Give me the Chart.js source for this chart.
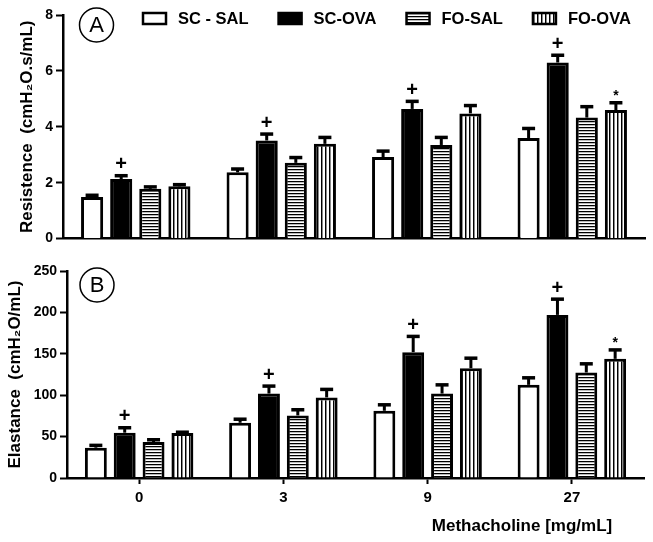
<!DOCTYPE html>
<html><head><meta charset="utf-8">
<script src="https://cdn.jsdelivr.net/npm/chart.js@4/dist/chart.umd.min.js"></script>
<style>
html,body{margin:0;padding:0;background:#fff;width:653px;height:542px;overflow:hidden}
#ca{position:absolute;left:0;top:0}
#cb{position:absolute;left:0;top:250px}
</style></head><body>
<canvas id="ca" width="653" height="250"></canvas>
<canvas id="cb" width="653" height="292"></canvas>
<script>
// ---- data ----
const categories = ['0', '3', '9', '27'];
const seriesNames = ['SC - SAL', 'SC-OVA', 'FO-SAL', 'FO-OVA'];

// Panel A: Resistance
const resSCSAL = [1.49, 2.37, 2.92, 3.60];
const resSCOVA = [2.13, 3.51, 4.64, 6.30];
const resFOSAL = [1.78, 2.71, 3.35, 4.33];
const resFOOVA = [1.87, 3.39, 4.48, 4.60];
const resErrSCSAL = [0.06, 0.12, 0.21, 0.34];
const resErrSCOVA = [0.12, 0.23, 0.27, 0.26];
const resErrFOSAL = [0.07, 0.19, 0.27, 0.39];
const resErrFOOVA = [0.06, 0.23, 0.28, 0.26];
const resTicks = [0, 2, 4, 6, 8];

// Panel B: Elastance
const elaSCSAL = [36.6, 66.7, 81.2, 112.5];
const elaSCOVA = [54.7, 102, 152, 197];
const elaFOSAL = [43.4, 75.6, 102, 127.4];
const elaFOOVA = [54.3, 97.3, 132.6, 143.9];
const elaErrSCSAL = [2.8, 4.3, 7.2, 8.5];
const elaErrSCOVA = [6, 9, 19, 19];
const elaErrFOSAL = [2.8, 6.8, 10.5, 10.5];
const elaErrFOOVA = [1, 9.7, 12.1, 10.8];
const elaTicks = [0, 50, 100, 150, 200, 250];

// significance marks
const marksSCSAL = ['', '', '', ''];
const marksSCOVA = ['+', '+', '+', '+'];
const marksFOSAL = ['', '', '', ''];
const marksFOOVA = ['', '', '', '*'];

const FONT = '"Liberation Sans", Arial, Helvetica, sans-serif';

function stripes(ctx, dir) {
  const c = document.createElement('canvas');
  const p = dir === 'h' ? 3 : 4;
  c.width = p; c.height = p;
  const x = c.getContext('2d');
  x.fillStyle = '#fff'; x.fillRect(0, 0, p, p);
  if (dir === 'h') {
    x.fillStyle = '#000'; x.fillRect(0, 1, p, 1);
    x.fillStyle = '#bbb'; x.fillRect(0, 2, p, 1);
  } else {
    x.fillStyle = '#000'; x.fillRect(1, 0, 1, p);
    x.fillStyle = '#888'; x.fillRect(2, 0, 1, p);
  }
  return ctx.createPattern(c, 'repeat');
}

const errBars = {
  id: 'errBars',
  afterDatasetsDraw(chart) {
    const ctx = chart.ctx, ys = chart.scales.y;
    chart.data.datasets.forEach((ds, i) => {
      const meta = chart.getDatasetMeta(i);
      meta.data.forEach((bar, j) => {
        const top = ys.getPixelForValue(ds.data[j] + ds.err[j]);
        ctx.save();
        ctx.strokeStyle = '#000';
        ctx.lineWidth = 3;
        ctx.beginPath(); ctx.moveTo(bar.x, bar.y); ctx.lineTo(bar.x, top); ctx.stroke();
        ctx.lineWidth = 3.5;
        ctx.beginPath(); ctx.moveTo(bar.x - 6.5, top); ctx.lineTo(bar.x + 6.5, top); ctx.stroke();
        const m = ds.marks[j];
        if (m) {
          ctx.fillStyle = '#000';
          ctx.textAlign = 'center';
          if (m === '+') {
            ctx.font = 'bold 20px ' + FONT;
            ctx.textBaseline = 'middle';
            ctx.fillText(m, bar.x, top - 11);
          } else {
            ctx.font = 'bold 14px ' + FONT;
            ctx.textBaseline = 'alphabetic';
            ctx.fillText(m, bar.x, top - 3);
          }
        }
        ctx.restore();
      });
    });
  }
};

function circleLabel(ctx, x, y, t) {
  ctx.save();
  ctx.strokeStyle = '#000'; ctx.lineWidth = 1.5;
  ctx.beginPath(); ctx.arc(x, y, 17, 0, Math.PI * 2); ctx.stroke();
  ctx.fillStyle = '#000'; ctx.font = '22px ' + FONT;
  ctx.textAlign = 'center'; ctx.textBaseline = 'middle';
  ctx.fillText(t, x, y + 1);
  ctx.restore();
}

const legendA = {
  id: 'legendA',
  afterDraw(chart) {
    const ctx = chart.ctx;
    circleLabel(ctx, 96.5, 25, 'A');
    ctx.save();
    ctx.font = 'bold 16.5px ' + FONT;
    ctx.textBaseline = 'middle';
    let x = 143;
    chart.data.datasets.forEach(ds => {
      ctx.fillStyle = ds.backgroundColor;
      ctx.fillRect(x, 13, 23, 11);
      ctx.strokeStyle = '#000'; ctx.lineWidth = 2.5;
      ctx.strokeRect(x, 13, 23, 11);
      ctx.fillStyle = '#000';
      ctx.fillText(ds.label, x + 35, 19);
      x += 35 + ctx.measureText(ds.label).width + 30;
    });
    ctx.restore();
  }
};

const decoB = {
  id: 'decoB',
  afterDraw(chart) {
    const ctx = chart.ctx;
    circleLabel(ctx, 97, 35, 'B');
    ctx.save();
    ctx.fillStyle = '#000';
    ctx.font = 'bold 17px ' + FONT;
    ctx.textAlign = 'center'; ctx.textBaseline = 'middle';
    ctx.fillText('Methacholine [mg/mL]', 522, 276);
    ctx.restore();
  }
};

function makeDatasets(ctx, vals, errs) {
  const fills = ['#ffffff', '#000000', stripes(ctx, 'h'), stripes(ctx, 'v')];
  const marks = [marksSCSAL, marksSCOVA, marksFOSAL, marksFOOVA];
  return seriesNames.map((n, i) => ({
    label: n,
    data: vals[i],
    err: errs[i],
    marks: marks[i],
    backgroundColor: fills[i],
    borderColor: '#000',
    borderWidth: 3,
    borderSkipped: 'bottom',
    categoryPercentage: 0.8,
    barPercentage: 0.76
  }));
}

const tickFont = { family: FONT, size: 14, weight: 'bold' };
const titleFont = { family: FONT, size: 17, weight: 'bold' };

function yScale(ticks, title, width, tpad) {
  return {
    min: ticks[0], max: ticks[ticks.length - 1],
    ticks: { stepSize: ticks[1] - ticks[0], color: '#000', font: tickFont, padding: 3 },
    grid: { drawOnChartArea: false, drawTicks: true, tickLength: 7, tickColor: '#000', tickWidth: 2 },
    border: { color: '#000', width: 2.5 },
    title: { display: true, text: title, color: '#000', font: titleFont, padding: { top: tpad, bottom: 0 } },
    afterFit(s) { s.width = width; }
  };
}

const ctxA = document.getElementById('ca').getContext('2d');
new Chart(ctxA, {
  type: 'bar',
  data: {
    labels: categories,
    datasets: makeDatasets(ctxA, [resSCSAL, resSCOVA, resFOSAL, resFOOVA],
      [resErrSCSAL, resErrSCOVA, resErrFOSAL, resErrFOOVA])
  },
  options: {
    responsive: false, animation: false, devicePixelRatio: 1,
    layout: { padding: { top: 15, right: 8, left: 0, bottom: 0 } },
    plugins: { legend: { display: false }, tooltip: { enabled: false } },
    scales: {
      x: {
        ticks: { display: false },
        grid: { display: true, drawOnChartArea: false, drawTicks: false },
        border: { color: '#000', width: 2.5 },
        afterFit(s) { s.height = 7; }
      },
      y: yScale(resTicks, 'Resistence  (cmH₂O.s/mL)', 63, 17)
    }
  },
  plugins: [errBars, legendA]
});

const ctxB = document.getElementById('cb').getContext('2d');
new Chart(ctxB, {
  type: 'bar',
  data: {
    labels: categories,
    datasets: makeDatasets(ctxB, [elaSCSAL, elaSCOVA, elaFOSAL, elaFOOVA],
      [elaErrSCSAL, elaErrSCOVA, elaErrFOSAL, elaErrFOOVA])
  },
  options: {
    responsive: false, animation: false, devicePixelRatio: 1,
    layout: { padding: { top: 21, right: 9, left: 0, bottom: 0 } },
    plugins: { legend: { display: false }, tooltip: { enabled: false } },
    scales: {
      x: {
        ticks: { color: '#000', font: { family: FONT, size: 15, weight: 'bold' }, padding: 5 },
        grid: { display: true, offset: false, drawOnChartArea: false, drawTicks: true, tickLength: 6, tickColor: '#000', tickWidth: 2 },
        border: { color: '#000', width: 2.5 },
        afterFit(s) { s.height = 64; }
      },
      y: yScale(elaTicks, 'Elastance  (cmH₂O/mL)', 67, 5)
    }
  },
  plugins: [errBars, decoB]
});
</script>
</body></html>
